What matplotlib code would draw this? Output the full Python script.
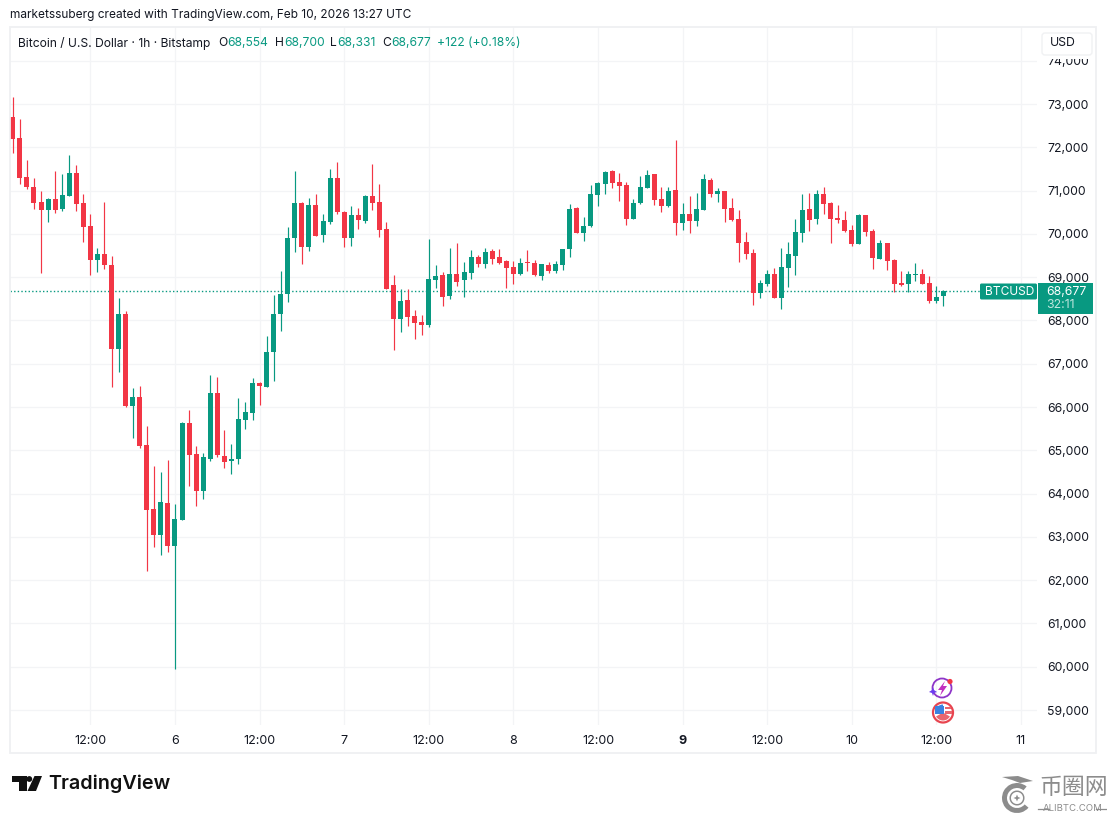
"""BTCUSD hourly candles, TradingView snapshot layout."""

import matplotlib

matplotlib.use("Agg")
import matplotlib.pyplot as plt
import numpy as np
from matplotlib.patches import Circle, FancyBboxPatch, Polygon, Rectangle, Wedge

plt.rcParams["font.family"] = ["Inter", "DejaVu Sans"]

UP = "#089981"
DOWN = "#F23645"
GRID = "#F3F4F6"
INK = "#131722"
MARK = "#8C8C8C"

opens = [72690, 72210, 71310, 71080, 70730, 70560, 70810, 70580, 70880, 71400, 70710, 70180, 69400, 69540,
         69280, 67350, 68150, 66030, 66230, 65120, 63640, 63050, 63780, 62800, 63400, 65630, 64910, 64070,
         64810, 66320, 64880, 64760, 64810, 65710, 65870, 66560, 66470, 67260, 68160, 68600, 69910, 70710,
         69700, 70670, 69980, 70270, 71290, 70500, 69900, 70430, 70290, 70870, 70740, 70110, 68820, 68030,
         68470, 68100, 67960, 67900, 68940, 69050, 68560, 69070, 68930, 69100, 69470, 69300, 69600, 69470,
         69380, 69230, 69070, 69350, 69330, 69030, 69280, 69140, 69280, 69640, 70600, 70020, 70180, 70900,
         71160, 71450, 71200, 71130, 70340, 70710, 71060, 71380, 70810, 70640, 71010, 70250, 70460, 70300,
         70550, 71250, 70920, 70990, 70600, 70340, 69810, 69560, 68630, 68840, 69070, 68520, 69210, 69490,
         70020, 70570, 70340, 70920, 70710, 70370, 70320, 70090, 69770, 70430, 70070, 69420, 69790, 69400,
         68870, 68840, 69050, 69070, 68870, 68450, 68554]
highs = [73170, 72650, 71710, 71290, 70990, 70820, 71450, 71380, 71820, 71580, 70910, 70460, 69670, 70740,
         69490, 68530, 68220, 66430, 66490, 65570, 64640, 64490, 64780, 63760, 65650, 65930, 65100, 64930,
         66740, 66690, 65470, 65150, 66200, 66120, 66660, 66570, 67640, 68590, 69140, 70170, 71450, 70740,
         70840, 70920, 70450, 71500, 71660, 70540, 70640, 70590, 70900, 71610, 71150, 70270, 69040, 68720,
         68720, 68240, 68130, 69880, 69280, 69110, 69670, 69800, 69350, 69630, 69520, 69670, 69650, 69650,
         69400, 69370, 69440, 69630, 69400, 69310, 69350, 69370, 69650, 70690, 70630, 70380, 71120, 71200,
         71450, 71470, 71410, 71200, 70810, 71340, 71480, 71380, 71080, 71080, 72170, 70710, 70880, 70940,
         71380, 71290, 71060, 70990, 70830, 70550, 70040, 69640, 68930, 69170, 69210, 69670, 69810, 70340,
         70920, 70940, 71010, 71080, 70740, 70670, 70530, 70200, 70460, 70430, 70110, 69860, 69790, 69430,
         69140, 69140, 69330, 69190, 69030, 68800, 68700]
lows = [71860, 71160, 71040, 70580, 69100, 70280, 70490, 70540, 70880, 70540, 69820, 69050, 69130, 69190,
        66470, 66810, 66000, 65280, 65060, 62220, 62770, 62590, 62640, 59960, 63400, 64180, 63710, 63880,
        64750, 64850, 64600, 64450, 64690, 65490, 65700, 66050, 66460, 66590, 67760, 68430, 69590, 69310,
        69600, 69960, 69810, 70230, 70470, 69700, 69720, 70110, 70260, 70550, 69930, 68730, 67320, 67730,
        67870, 67570, 67660, 67860, 68750, 68330, 68500, 68800, 68540, 68960, 69240, 69210, 69300, 69300,
        68750, 68840, 69050, 69140, 69030, 68930, 69100, 69100, 69170, 69470, 70020, 69840, 70170, 70650,
        70930, 71070, 70750, 70210, 70340, 70690, 71060, 70670, 70510, 70620, 69980, 70090, 70020, 70180,
        70550, 70850, 70740, 70280, 70300, 69350, 69420, 68360, 68520, 68800, 68520, 68260, 68770, 69050,
        69810, 70070, 70230, 70460, 69790, 70250, 70040, 69720, 69770, 69950, 69190, 69420, 69170, 68660,
        68800, 68660, 68910, 68840, 68400, 68400, 68331]
closes = [72200, 71300, 71090, 70720, 70560, 70810, 70560, 70890, 71400, 70700, 70170, 69400, 69540, 69270,
          67350, 68150, 66030, 66230, 65100, 63630, 63050, 63800, 62800, 63410, 65630, 64900, 64070, 64840,
          66320, 64900, 64740, 64810, 65720, 65880, 66550, 66490, 67270, 68160, 68610, 69900, 70710, 69700,
          70670, 69960, 70290, 71290, 70500, 69900, 70440, 70310, 70870, 70720, 70090, 68730, 68030, 68450,
          68090, 67940, 67900, 68960, 69030, 68540, 69070, 68890, 69120, 69470, 69300, 69580, 69420, 69330,
          69210, 69070, 69330, 69330, 69050, 69300, 69140, 69300, 69640, 70580, 70030, 70180, 70920, 71180,
          71440, 71180, 71110, 70340, 70710, 71080, 71360, 70780, 70640, 70990, 70250, 70460, 70300, 70580,
          71270, 70920, 70990, 70580, 70320, 69790, 69540, 68630, 68870, 69070, 68520, 69230, 69540, 70040,
          70550, 70320, 70920, 70690, 70340, 70320, 70070, 69770, 70430, 70040, 69440, 69790, 69370, 68840,
          68820, 69070, 69070, 68840, 68450, 68550, 68677]

FIRST_HOUR = -23  # hours relative to Feb 6 00:00
price_ticks = list(range(59000, 75000, 1000))
time_ticks = [-12, 0, 12, 24, 36, 48, 60, 72, 84, 96, 108, 120]
time_labels = ["12:00", "6", "12:00", "7", "12:00", "8", "12:00", "9", "12:00", "10", "12:00", "11"]

W, H = 1107, 814
fig = plt.figure(figsize=(W / 100, H / 100), dpi=100, facecolor="white")
ax = fig.add_axes([10 / W, (H - 725) / H, 1027 / W, 698 / H])
ax.set_xlim(-23.4, 122.27)
ax.set_ylim(58655, 74779)

hours = np.arange(len(opens)) + FIRST_HOUR
o, h, l, c = map(np.array, (opens, highs, lows, closes))
colors = np.where(c >= o, UP, DOWN)
ax.vlines(hours, l, h, colors=colors, linewidth=0.85, zorder=3)
ax.bar(hours, np.abs(c - o), bottom=np.minimum(o, c), width=0.71, color=colors, linewidth=0, zorder=4)
ax.axhline(closes[-1], xmax=970 / 1027, color=UP, linewidth=1, linestyle=(0, (1, 1.6)), zorder=2)

ax.set_yticks(price_ticks, [f"{p:,}" for p in price_ticks])
ax.set_xticks(time_ticks, time_labels)
ax.yaxis.tick_right()
ax.tick_params(length=0, labelcolor=INK)
ax.tick_params(axis="y", pad=7.3, labelsize=8.8)
ax.tick_params(axis="x", pad=7, labelsize=9)
ax.xaxis.get_ticklabels()[7].set_fontweight("bold")
ax.grid(color=GRID, linewidth=0.9)
ax.set_axisbelow(True)
for spine in ax.spines.values():
    spine.set_visible(False)

# everything outside the price scale goes on a pixel-coordinate overlay
over = fig.add_axes([0, 0, 1, 1], zorder=5)
over.set_xlim(0, W)
over.set_ylim(H, 0)
over.axis("off")

over.add_patch(Rectangle((10, 27), 1086, 726, fill=False, edgecolor="#EFF0F2", linewidth=1.3))
over.text(10, 15, "marketssuberg created with TradingView.com, Feb 10, 2026 13:27 UTC", fontsize=8.55, color=INK, va="center")

legend = [(18, "Bitcoin / U.S. Dollar · 1h · Bitstamp", INK), (218, "O", INK), (227, "68,554", UP), (275, "H", INK),
          (284, "68,700", UP), (330, "L", INK), (337, "68,331", UP), (382, "C", INK), (391, "68,677", UP),
          (437, "+122 (+0.18%)", UP)]
for x, label, color in legend:
    over.text(x, 43, label, fontsize=8.7, color=color, va="center")

# USD button hides the top of the 74,000 label
over.add_patch(Rectangle((1040, 28), 54, 31, facecolor="white", linewidth=0))
over.add_patch(FancyBboxPatch((1042, 33), 50, 22, boxstyle="round,pad=0,rounding_size=3", facecolor="white",
                              edgecolor="#F0F1F3", linewidth=1))
over.text(1050, 43.5, "USD", fontsize=8.8, color=INK, va="center")

# last price tags
over.add_patch(FancyBboxPatch((980, 283.5), 57, 16, boxstyle="round,pad=0,rounding_size=1.5", facecolor=UP, linewidth=0))
over.text(984.5, 292, "BTCUSD", fontsize=8.6, color="white", va="center")
over.add_patch(Rectangle((1038, 283), 55, 31, facecolor=UP, linewidth=0))
over.text(1046, 292, f"{closes[-1]:,}", fontsize=8.8, color="white", va="center")
over.text(1046, 305, "32:11", fontsize=8.8, color="#BFE6DE", va="center")

# event icons
over.add_patch(Circle((942, 688), 9.5, fill=False, edgecolor="#8E35C8", linewidth=1.3))
over.add_patch(Polygon([(945, 681), (938, 690), (942, 690), (940, 696), (947, 686), (943, 686)], facecolor="#C22FC0", linewidth=0))
over.add_patch(Polygon([(929, 692), (932, 690), (933, 687), (934, 690), (937, 692), (934, 693), (933, 696), (932, 693)],
                       facecolor="#6C3BEF", linewidth=0))
over.add_patch(Circle((950, 681.5), 2.6, facecolor=DOWN, linewidth=0))
over.add_patch(Circle((943, 712.5), 10, facecolor="white", edgecolor="#E8444F", linewidth=1.6))
over.add_patch(Wedge((943, 712.5), 8, 30, 150, facecolor="#E8666E", linewidth=0))
over.add_patch(Wedge((943, 712.5), 8, 180, 270, facecolor="#3B82E0", linewidth=0))
over.add_patch(Rectangle((935, 706), 9, 8, facecolor="#3B82E0", linewidth=0))
over.add_patch(Rectangle((945, 707), 6, 2, facecolor="#E8666E", linewidth=0))
over.add_patch(Rectangle((945, 711), 6.5, 3, facecolor="#E8666E", linewidth=0))

# TradingView wordmark
over.add_patch(Polygon([(12, 776), (27, 776), (27, 791), (19, 791), (19, 782), (12, 782)], facecolor="#111111", linewidth=0))
over.add_patch(Circle((29.3, 779), 2.9, facecolor="#111111", linewidth=0))
over.add_patch(Polygon([(34.5, 776), (42, 776), (36, 791), (27.5, 791)], facecolor="#111111", linewidth=0))
over.text(48.5, 783.5, "TradingView", fontsize=14.25, fontweight="semibold", color="#111111", va="center")

# site watermark
over.add_patch(Wedge((1017, 798), 15, 40, 310, width=5, facecolor=MARK, linewidth=0))
over.add_patch(Wedge((1017, 798), 7.5, 0, 360, width=1.5, facecolor=MARK, linewidth=0))
over.add_patch(Polygon([(1002, 777), (1018, 776), (1033, 781), (1020, 783), (1012, 780)], facecolor=MARK, linewidth=0))
over.add_patch(Polygon([(1017, 794.5), (1018, 797), (1020.5, 798), (1018, 799), (1017, 801.5), (1016, 799), (1013.5, 798), (1016, 797)],
                       facecolor=MARK, linewidth=0))
over.text(1073.5, 788, "币圈网", family=["Noto Sans CJK SC", "DejaVu Sans"], fontsize=16.5, fontweight="medium", color=MARK,
          ha="center", va="center")
over.text(1072.5, 808.5, "ALIBTC.COM", fontsize=6.9, color=MARK, ha="center", va="center")
over.plot([1038, 1049], [809, 809], color=MARK, linewidth=0.9)
over.plot([1096, 1107], [809, 809], color=MARK, linewidth=0.9)

fig.savefig("out.png", dpi=100)
